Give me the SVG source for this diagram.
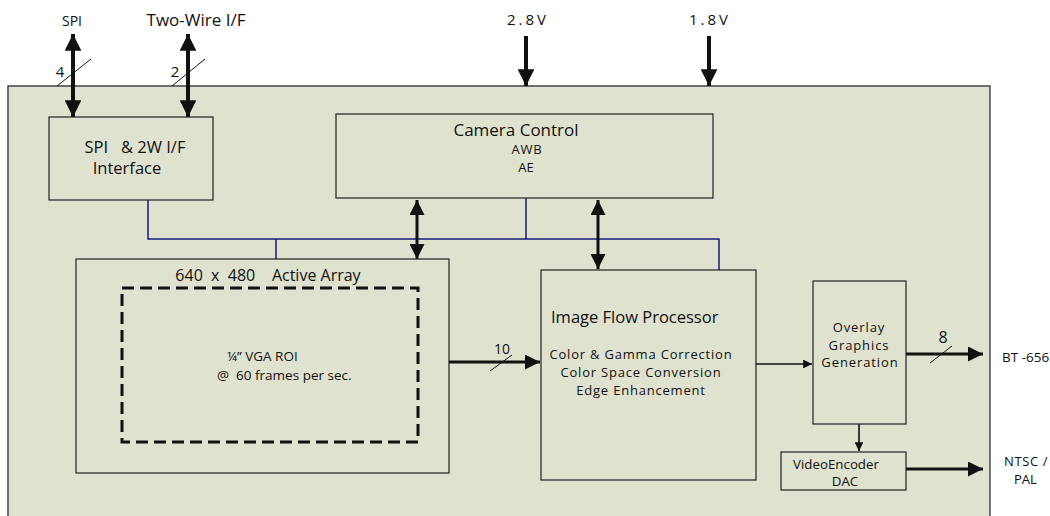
<svg xmlns="http://www.w3.org/2000/svg" width="1050" height="516" viewBox="0 0 1050 516">
<defs>
<style>
.box{fill:#dfe2cf;stroke:#222;stroke-width:1.2}
.t{font-family:"Open Sans","Liberation Sans",sans-serif;fill:#111}
.bus{fill:none;stroke:#1a1a80;stroke-width:1.5}
.thick{fill:none;stroke:#111;stroke-width:4}
.med{fill:none;stroke:#111;stroke-width:3}
.thin{fill:none;stroke:#111;stroke-width:1.6}
.sl{stroke:#111;stroke-width:1}
</style>
<marker id="ah" viewBox="0 0 10 10" refX="10" refY="5" markerWidth="4.2" markerHeight="4.2" markerUnits="strokeWidth" orient="auto-start-reverse"><path d="M0,0 L10,5 L0,10 z" fill="#111"/></marker>
<marker id="ahm" viewBox="0 0 10 10" refX="10" refY="5" markerWidth="5" markerHeight="5" markerUnits="strokeWidth" orient="auto-start-reverse"><path d="M0,0 L10,5 L0,10 z" fill="#111"/></marker>
<marker id="ahs" viewBox="0 0 10 10" refX="10" refY="5" markerWidth="5.5" markerHeight="5.5" markerUnits="strokeWidth" orient="auto-start-reverse"><path d="M0,0 L10,5 L0,10 z" fill="#111"/></marker>
</defs>
<rect width="1050" height="516" fill="#fff"/>
<g id="chip"><rect x="8" y="86" width="982" height="440" fill="#dfe2cf" stroke="#444" stroke-width="1.5"/></g>

<g id="connectors">
<path class="bus" d="M148,200 V239 H719 V270 M526,198 V239 M276,239 V259"/>
<line class="thick" x1="73" y1="34" x2="73" y2="117" marker-start="url(#ah)" marker-end="url(#ah)"/>
<line class="sl" x1="57" y1="86" x2="91" y2="59"/>
<line class="thick" x1="188" y1="34" x2="188" y2="117" marker-start="url(#ah)" marker-end="url(#ah)"/>
<line class="sl" x1="172" y1="86" x2="205" y2="59"/>
<line class="thick" x1="526" y1="36" x2="526" y2="86" marker-end="url(#ah)"/>
<line class="thick" x1="709" y1="36" x2="709" y2="86" marker-end="url(#ah)"/>
<line class="med" x1="417" y1="200" x2="417" y2="259" marker-start="url(#ahm)" marker-end="url(#ahm)"/>
<line class="med" x1="598" y1="200" x2="598" y2="269" marker-start="url(#ahm)" marker-end="url(#ahm)"/>
<line class="med" x1="449" y1="362" x2="540" y2="362" marker-end="url(#ahm)"/>
<line class="sl" x1="490" y1="371" x2="512" y2="355"/>
<line class="thin" x1="756" y1="364" x2="812" y2="364" marker-end="url(#ahs)"/>
<line class="med" x1="906" y1="354" x2="983" y2="354" marker-end="url(#ahm)"/>
<line class="sl" x1="930" y1="363" x2="952" y2="346"/>
<line class="thin" x1="859" y1="424" x2="859" y2="451" marker-end="url(#ahs)"/>
<line class="med" x1="906" y1="469" x2="983" y2="469" marker-end="url(#ahm)"/>
</g>

<g id="labels">
<text class="t" x="72" y="26" font-size="14" text-anchor="middle">SPI</text>
<text class="t" x="196" y="26" font-size="17" text-anchor="middle">Two-Wire I/F</text>
<text class="t" x="60" y="77" font-size="15" text-anchor="middle">4</text>
<text class="t" x="175" y="77" font-size="15" text-anchor="middle">2</text>
<text class="t" x="528" y="25" font-size="15" text-anchor="middle" letter-spacing="3">2.8V</text>
<text class="t" x="710" y="25" font-size="15" text-anchor="middle" letter-spacing="3">1.8V</text>
<text class="t" x="502" y="354" font-size="14" text-anchor="middle">10</text>
<text class="t" x="943" y="343" font-size="16" text-anchor="middle">8</text>
<text class="t" x="1002" y="362" font-size="13.5">BT -656</text>
<text class="t" x="1004" y="466" font-size="13" letter-spacing="0.6">NTSC /</text>
<text class="t" x="1014" y="484" font-size="13">PAL</text>
</g>

<g id="spi-if">
<rect class="box" x="49" y="117" width="164" height="83"/>
<text class="t" x="135" y="153" font-size="16.5" text-anchor="middle" xml:space="preserve">SPI   &amp; 2W I/F</text>
<text class="t" x="127" y="174" font-size="16.5" text-anchor="middle">Interface</text>
</g>

<g id="camera-control">
<rect class="box" x="336" y="114" width="377" height="84"/>
<text class="t" x="516" y="136" font-size="17" text-anchor="middle">Camera Control</text>
<text class="t" x="527" y="154" font-size="13" text-anchor="middle" letter-spacing="0.8">AWB</text>
<text class="t" x="526" y="172" font-size="13" text-anchor="middle">AE</text>
</g>

<g id="active-array">
<rect class="box" x="76" y="259" width="373" height="214"/>
<text class="t" x="268" y="281" font-size="16" text-anchor="middle" xml:space="preserve">640  x  480    Active Array</text>
<rect x="122" y="288" width="296" height="154" fill="none" stroke="#111" stroke-width="3" stroke-dasharray="12,6"/>
<text class="t" x="227" y="361" font-size="13.5">¼” VGA ROI</text>
<text class="t" x="217" y="380" font-size="13.5" xml:space="preserve">@  60 frames per sec.</text>
</g>

<g id="ifp">
<rect class="box" x="541" y="270" width="215" height="210"/>
<text class="t" x="551" y="323" font-size="16.5">Image Flow Processor</text>
<text class="t" x="641" y="359" font-size="13" text-anchor="middle" letter-spacing="0.8">Color &amp; Gamma Correction</text>
<text class="t" x="641" y="377" font-size="13" text-anchor="middle" letter-spacing="0.8">Color Space Conversion</text>
<text class="t" x="641" y="395" font-size="13" text-anchor="middle" letter-spacing="0.8">Edge Enhancement</text>
</g>

<g id="overlay">
<rect class="box" x="813" y="281" width="93" height="143"/>
<text class="t" x="859" y="332" font-size="13" text-anchor="middle" letter-spacing="0.9">Overlay</text>
<text class="t" x="859" y="350" font-size="13" text-anchor="middle" letter-spacing="0.9">Graphics</text>
<text class="t" x="860" y="367" font-size="13" text-anchor="middle" letter-spacing="0.9">Generation</text>
</g>

<g id="video-encoder">
<rect class="box" x="781" y="452" width="125" height="38"/>
<text class="t" x="836" y="469" font-size="13.3" text-anchor="middle">VideoEncoder</text>
<text class="t" x="845" y="486" font-size="13.3" text-anchor="middle">DAC</text>
</g>
</svg>
